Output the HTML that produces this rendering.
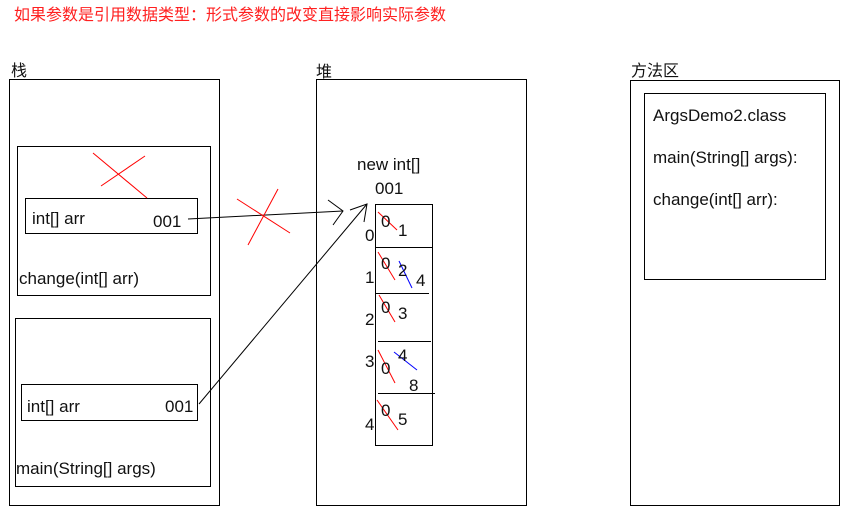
<!DOCTYPE html>
<html><head><meta charset="utf-8"><style>
html,body{margin:0;padding:0;background:#fff;}
svg{display:block;}
text{font-family:"Liberation Sans","Noto Sans CJK SC",sans-serif;font-size:17px;fill:#111;}
</style></head><body>
<svg width="851" height="514" viewBox="0 0 851 514" xmlns="http://www.w3.org/2000/svg">
<text x="14" y="20" style="fill:#ff2020;font-size:16px">如果参数是引用数据类型：形式参数的改变直接影响实际参数</text>
<text x="11" y="76" style="font-size:16px">栈</text>
<text x="316" y="77" style="font-size:16px">堆</text>
<text x="631" y="76" style="font-size:16px">方法区</text>
<g fill="none" stroke="#000" stroke-width="1">
<rect x="9.5" y="79.5" width="210" height="426"/>
<rect x="316.5" y="79.5" width="210" height="426"/>
<rect x="630.5" y="80.5" width="209" height="425"/>
<rect x="644.5" y="93.5" width="181" height="186"/>
<rect x="17.5" y="146.5" width="193" height="149"/>
<rect x="25.5" y="198.5" width="172" height="35"/>
<rect x="15.5" y="318.5" width="195" height="168"/>
<rect x="21.5" y="384.5" width="176" height="36"/>
<rect x="375.5" y="204.5" width="57" height="241"/>
<line x1="375" y1="247.5" x2="432" y2="247.5"/>
<line x1="375" y1="293.5" x2="429" y2="293.5"/>
<line x1="378" y1="341.5" x2="431" y2="341.5"/>
<line x1="378" y1="393.5" x2="435" y2="393.5"/>
<line x1="188" y1="219" x2="343" y2="211"/>
<polyline points="328,200 343,211 333,225"/>
<line x1="199" y1="404" x2="367" y2="204"/>
<polyline points="350,210 367,204 364,222"/>
</g>
<g stroke="#ff0000" stroke-width="1" fill="none">
<line x1="93" y1="153" x2="147" y2="198"/>
<line x1="101" y1="186" x2="145" y2="156"/>
<line x1="237" y1="199" x2="290" y2="233"/>
<line x1="248" y1="245" x2="278" y2="189"/>
<line x1="378" y1="212" x2="397" y2="230"/>
<line x1="378" y1="252" x2="395" y2="280"/>
<line x1="379" y1="295" x2="395" y2="322"/>
<line x1="378" y1="350" x2="395" y2="383"/>
<line x1="377" y1="400" x2="398" y2="430"/>
</g>
<g stroke="#0000ff" stroke-width="1" fill="none">
<line x1="399" y1="261" x2="412" y2="288"/>
<line x1="394" y1="352" x2="417" y2="370"/>
</g>
<text x="32" y="224">int[] arr</text>
<text x="153" y="227">001</text>
<text x="19" y="284">change(int[] arr)</text>
<text x="27" y="412">int[] arr</text>
<text x="165" y="412">001</text>
<text x="16" y="474">main(String[] args)</text>
<text x="357" y="170">new int[]</text>
<text x="375" y="194">001</text>
<text x="365" y="241">0</text>
<text x="365" y="283">1</text>
<text x="365" y="325">2</text>
<text x="365" y="367">3</text>
<text x="365" y="430">4</text>
<text x="381" y="227">0</text>
<text x="398" y="236">1</text>
<text x="381" y="269">0</text>
<text x="398" y="276">2</text>
<text x="416" y="286">4</text>
<text x="381" y="313">0</text>
<text x="398" y="319">3</text>
<text x="381" y="374">0</text>
<text x="398" y="361">4</text>
<text x="409" y="391">8</text>
<text x="381" y="416">0</text>
<text x="398" y="425">5</text>
<text x="653" y="121">ArgsDemo2.class</text>
<text x="653" y="163">main(String[] args):</text>
<text x="653" y="205">change(int[] arr):</text>
</svg>
</body></html>
